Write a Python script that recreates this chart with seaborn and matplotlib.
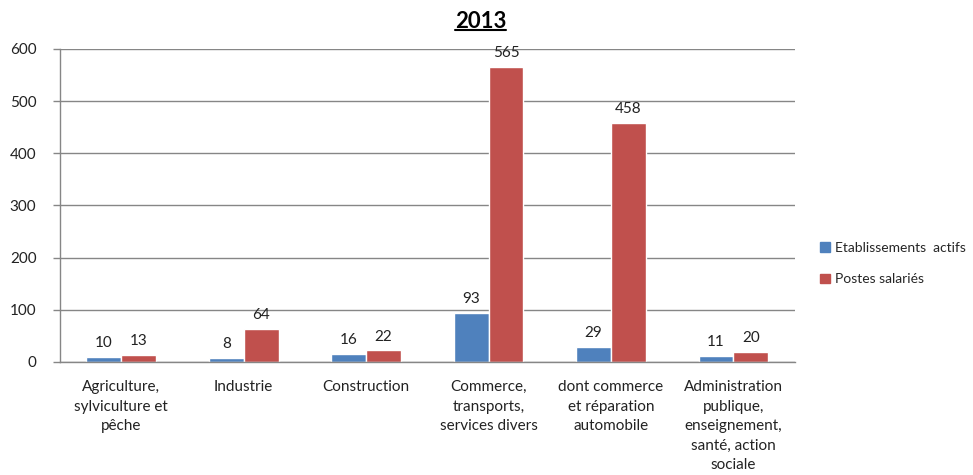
import matplotlib
matplotlib.use("Agg")
import matplotlib.pyplot as plt
import seaborn as sns
import pandas as pd
import numpy as np
from matplotlib.lines import Line2D

categories = [
    "Agriculture,\nsylviculture et\npêche",
    "Industrie",
    "Construction",
    "Commerce,\ntransports,\nservices divers",
    "dont commerce\net réparation\nautomobile",
    "Administration\npublique,\nenseignement,\nsanté, action\nsociale",
]
etablissements = [10, 8, 16, 93, 29, 11]
postes = [13, 64, 22, 565, 458, 20]
series_names = ["Etablissements  actifs", "Postes salariés"]
yticks = [0, 100, 200, 300, 400, 500, 600]

df = pd.DataFrame({
    "categorie": categories * 2,
    "valeur": etablissements + postes,
    "serie": [series_names[0]] * len(categories) + [series_names[1]] * len(categories),
})

sns.set_theme(style="white")
plt.rcParams["font.family"] = ["Lato", "DejaVu Sans"]

fig = plt.figure(figsize=(9.73, 4.75), dpi=100)
ax = fig.add_axes([0.0617, 0.238, 0.755, 0.659])

palette = {series_names[0]: "#4F81BD", series_names[1]: "#C0504D"}
sns.barplot(data=df, x="categorie", y="valeur", hue="serie", palette=palette,
            width=0.57, gap=0, saturation=1, legend=False, ax=ax,
            order=categories, hue_order=series_names, errorbar=None)

grid_col = "#868686"
txt_col = "#222222"
ax.set_ylim(0, 600)
ax.set_xlim(-0.5, len(categories) - 0.5)
ax.set_yticks(yticks)
ax.set_yticklabels([str(v) for v in yticks], fontsize=11, color=txt_col)
ax.yaxis.grid(True, color=grid_col, linewidth=1)
ax.set_axisbelow(True)
ax.set_xlabel("")
ax.set_ylabel("")

ax.set_xticks(range(len(categories)))
ax.set_xticklabels(categories, fontsize=11, color=txt_col, linespacing=1.5, va="top")
ax.set_xticks(np.arange(-0.5, len(categories), 1.0), minor=True)
ax.tick_params(axis="x", which="major", length=0, pad=13)
ax.tick_params(axis="x", which="minor", length=5, color=grid_col, width=1, direction="out")
ax.tick_params(axis="y", which="major", length=5, color=grid_col, width=1, direction="out", pad=12, left=True)

for side in ["top", "right"]:
    ax.spines[side].set_visible(False)
for side in ["left", "bottom"]:
    ax.spines[side].set_color(grid_col)
    ax.spines[side].set_linewidth(1)

for cont in ax.containers:
    ax.bar_label(cont, fmt="%d", padding=5, fontsize=11, color=txt_col)

# Title, bold and underlined
title = fig.text(0.494, 0.955, "2013", ha="center", va="center",
                 fontsize=16, fontweight="bold", color="black")
fig.canvas.draw()
bb = title.get_window_extent().transformed(fig.transFigure.inverted())
fig.add_artist(Line2D([bb.x0, bb.x1], [bb.y0 + 0.004, bb.y0 + 0.004],
                      transform=fig.transFigure, color="black", linewidth=1.5))

handles = [plt.Rectangle((0, 0), 1, 1, color=palette[s]) for s in series_names]
fig.legend(handles, series_names, loc="center left", bbox_to_anchor=(0.840, 0.445),
           frameon=False, fontsize=10, handlelength=0.7, handleheight=0.7,
           handletextpad=0.35, labelspacing=1.4, borderaxespad=0, borderpad=0.2)

fig.savefig("out.png", dpi=100)
